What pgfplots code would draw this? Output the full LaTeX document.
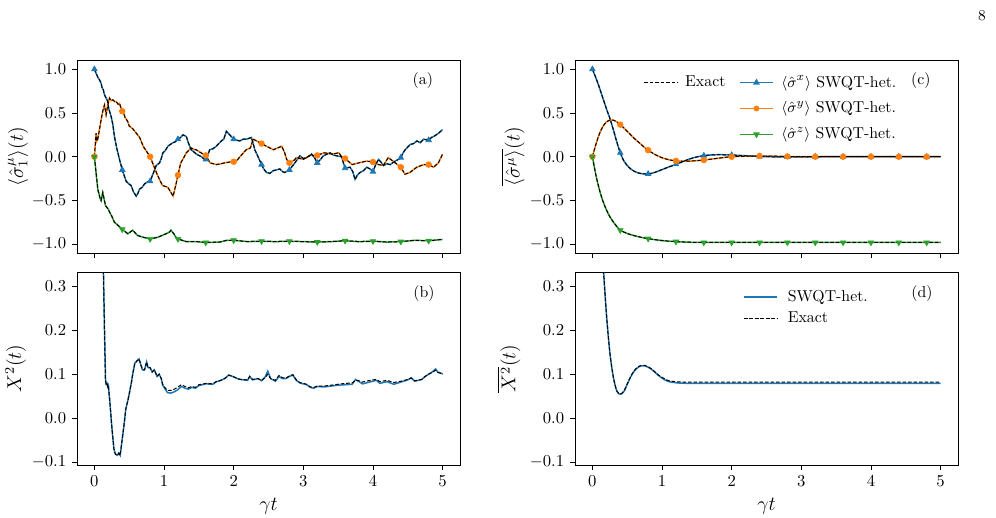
\documentclass[border=0pt]{standalone}
\usepackage{pgfplots}
\usepackage{pgfplotstable}
\pgfplotsset{compat=1.18}
\definecolor{tabblue}{HTML}{1F77B4}
\definecolor{taborange}{HTML}{FF7F0E}
\definecolor{tabgreen}{HTML}{2CA02C}

\tikzset{plab/.style={font=\fontsize{9.5}{11}\selectfont}}
\pgfplotsset{
 panel/.style={
  scale only axis, width=229.8pt, height=115.8pt,
  anchor=south west,
  xmin=-0.25, xmax=5.25,
  xtick={0,1,2,3,4,5},
  tick align=outside, tick pos=left,
  major tick length=3pt,
  axis line style={line width=0.5pt},
  every tick/.style={black, line width=0.5pt},
  tick label style={font=\fontsize{10.3}{12}\selectfont},
  label style={font=\fontsize{12}{14}\selectfont},
  yticklabel style={/pgf/number format/.cd, fixed, fixed zerofill, precision=1},
  legend cell align=left,
 },
 toprow/.style={panel, ymin=-1.1, ymax=1.105, ytick={-1,-0.5,0,0.5,1}, xticklabels={}},
 botrow/.style={panel, ymin=-0.107, ymax=0.333, ytick={-0.1,0,0.1,0.2,0.3}, xlabel={$\gamma t$}},
 sq/.style={line width=0.9pt},
 ex/.style={black, line width=0.6pt, dash pattern=on 2.2pt off 1.1pt},
 mk/.style={only marks, mark size=1.9pt, forget plot},
}

% ---------- panel (a): single trajectory ----------
\pgfplotstableread{
t v
0 1.0
0.048 0.91
0.072 0.88
0.096 0.84
0.11 0.79
0.13 0.76
0.14 0.72
0.149 0.70
0.168 0.67
0.187 0.64
0.206 0.55
0.24 0.46
0.264 0.37
0.288 0.23
0.32 0.10
0.36 -0.03
0.4 -0.15
0.43 -0.22
0.456 -0.28
0.494 -0.31
0.528 -0.33
0.56 -0.40
0.6 -0.45
0.624 -0.42
0.648 -0.37
0.686 -0.35
0.72 -0.31
0.758 -0.29
0.8 -0.28
0.84 -0.20
0.888 -0.10
0.936 -0.07
0.96 -0.02
0.984 0.045
1.017 0.07
1.056 0.12
1.09 0.14
1.128 0.16
1.16 0.17
1.2 0.2
1.238 0.22
1.272 0.25
1.32 0.23
1.353 0.15
1.39 0.08
1.464 0.03
1.536 0.0
1.583 -0.03
1.617 -0.01
1.655 0.08
1.7 0.09
1.75 0.12
1.823 0.18
1.857 0.2
1.895 0.29
1.943 0.25
2.0 0.2
2.04 0.19
2.087 0.18
2.135 0.2
2.183 0.2
2.255 0.22
2.28 0.15
2.303 0.08
2.35 0.0
2.4 -0.09
2.432 -0.14
2.471 -0.18
2.519 -0.19
2.567 -0.16
2.615 -0.15
2.663 -0.14
2.7 -0.17
2.735 -0.18
2.8 -0.15
2.84 -0.11
2.879 -0.07
2.951 0.01
2.999 -0.02
3.047 -0.01
3.119 0.03
3.167 -0.02
3.2 -0.07
3.248 -0.03
3.287 0.01
3.383 0.045
3.431 0.02
3.479 0.01
3.551 0.0
3.575 -0.07
3.6 -0.13
3.671 -0.12
3.71 -0.17
3.743 -0.26
3.776 -0.21
3.815 -0.18
3.863 -0.16
3.911 -0.12
3.959 -0.14
4.0 -0.17
4.04 -0.09
4.079 -0.03
4.113 -0.06
4.151 -0.10
4.199 -0.08
4.247 -0.09
4.319 -0.05
4.367 -0.03
4.4 -0.01
4.43 0.04
4.463 0.08
4.535 0.14
4.583 0.15
4.631 0.18
4.679 0.16
4.727 0.2
4.8 0.19
4.84 0.22
4.871 0.23
4.944 0.27
5.0 0.31
}\aX
\pgfplotstableread{
t v
0 0
0.024 0.27
0.035 0.18
0.048 0.20
0.07 0.30
0.096 0.42
0.12 0.52
0.144 0.59
0.16 0.52
0.168 0.48
0.19 0.58
0.216 0.67
0.24 0.64
0.264 0.65
0.29 0.63
0.312 0.63
0.34 0.60
0.36 0.61
0.38 0.56
0.41 0.52
0.44 0.45
0.48 0.40
0.5 0.35
0.55 0.32
0.6 0.27
0.65 0.22
0.7 0.12
0.75 0.06
0.8 0.0
0.85 -0.10
0.89 -0.18
0.94 -0.27
0.98 -0.33
1.02 -0.34
1.055 -0.35
1.1 -0.41
1.13 -0.45
1.17 -0.32
1.2 -0.21
1.24 -0.07
1.27 -0.03
1.32 0.045
1.39 0.1
1.44 0.08
1.46 0.08
1.53 0.045
1.6 0.015
1.66 -0.07
1.75 -0.09
1.82 -0.08
1.87 -0.07
1.95 -0.06
2.0 -0.057
2.05 -0.04
2.09 0.0
2.18 0.08
2.24 0.1
2.28 0.2
2.33 0.18
2.4 0.15
2.47 0.12
2.57 0.08
2.63 0.1
2.69 0.12
2.73 0.05
2.76 -0.03
2.8 -0.07
2.87 -0.04
2.9 -0.01
3.0 -0.03
3.1 0.015
3.2 0.015
3.3 0.045
3.42 0.03
3.51 0.045
3.55 0.0
3.6 -0.02
3.7 -0.09
3.8 -0.07
3.91 -0.05
4.0 -0.06
4.08 -0.09
4.15 -0.1
4.22 -0.01
4.32 -0.07
4.4 -0.12
4.46 -0.2
4.53 -0.18
4.63 -0.12
4.73 -0.09
4.8 -0.09
4.87 -0.12
4.94 -0.07
5.0 0.03
}\aY
\pgfplotstableread{
t v
0 0
0.034 -0.26
0.05 -0.38
0.062 -0.41
0.08 -0.47
0.096 -0.5
0.12 -0.41
0.13 -0.45
0.16 -0.56
0.2 -0.6
0.216 -0.63
0.25 -0.68
0.288 -0.75
0.32 -0.77
0.36 -0.8
0.4 -0.83
0.48 -0.88
0.55 -0.84
0.62 -0.9
0.7 -0.92
0.8 -0.94
0.91 -0.92
1.03 -0.88
1.08 -0.86
1.1 -0.84
1.14 -0.88
1.17 -0.92
1.2 -0.94
1.32 -0.97
1.46 -0.97
1.6 -0.98
1.8 -0.975
1.9 -0.955
2.0 -0.955
2.2 -0.97
2.4 -0.965
2.6 -0.97
2.8 -0.965
3.0 -0.97
3.2 -0.975
3.4 -0.97
3.6 -0.96
3.8 -0.97
4.0 -0.965
4.2 -0.975
4.4 -0.97
4.6 -0.955
4.8 -0.96
5.0 -0.945
}\aZ
\pgfplotstableread{
t x y z
0 1.0 0 0
0.4 -0.15 0.52 -0.83
0.8 -0.28 0.0 -0.94
1.2 0.2 -0.21 -0.94
1.6 -0.03 0.015 -0.98
2.0 0.2 -0.057 -0.955
2.4 -0.09 0.15 -0.965
2.8 -0.15 -0.07 -0.965
3.2 -0.07 0.015 -0.975
3.6 -0.13 -0.02 -0.96
4.0 -0.17 -0.06 -0.965
4.4 -0.01 -0.12 -0.97
4.8 0.19 -0.09 -0.96
}\aM

% ---------- panel (b) ----------
\pgfplotstableread{
t sw ex
0 0.75 0.75
0.06 0.6 0.6
0.1 0.45 0.45
0.13 0.33 0.33
0.145 0.2 0.2
0.155 0.12 0.12
0.16 0.085 0.085
0.168 0.078 0.078
0.18 0.08 0.08
0.19 0.072 0.072
0.2 0.075 0.075
0.22 0.04 0.04
0.25 -0.02 -0.02
0.28 -0.07 -0.07
0.3 -0.082 -0.082
0.33 -0.085 -0.085
0.35 -0.08 -0.08
0.37 -0.085 -0.085
0.39 -0.06 -0.06
0.43 -0.01 -0.01
0.45 0.02 0.02
0.48 0.04 0.04
0.5 0.055 0.055
0.53 0.08 0.08
0.55 0.10 0.10
0.58 0.125 0.125
0.61 0.13 0.13
0.64 0.135 0.135
0.66 0.125 0.125
0.69 0.11 0.11
0.72 0.11 0.11
0.75 0.128 0.128
0.77 0.115 0.115
0.8 0.115 0.115
0.83 0.105 0.105
0.86 0.11 0.11
0.9 0.095 0.095
0.93 0.1 0.1
0.96 0.09 0.09
0.98 0.075 0.077
1.02 0.065 0.068
1.05 0.058 0.063
1.1 0.057 0.063
1.15 0.06 0.066
1.2 0.065 0.071
1.25 0.072 0.076
1.3 0.068 0.072
1.35 0.066 0.069
1.4 0.07 0.072
1.45 0.068 0.07
1.5 0.074 0.076
1.6 0.078 0.079
1.7 0.077 0.078
1.75 0.083 0.083
1.8 0.085 0.085
1.87 0.09 0.09
1.93 0.098 0.098
2.0 0.094 0.094
2.05 0.09 0.09
2.1 0.088 0.088
2.2 0.086 0.087
2.23 0.095 0.095
2.27 0.087 0.088
2.35 0.09 0.09
2.4 0.085 0.086
2.45 0.093 0.092
2.49 0.107 0.1
2.53 0.09 0.09
2.6 0.084 0.086
2.65 0.095 0.097
2.7 0.09 0.092
2.75 0.09 0.091
2.8 0.095 0.096
2.85 0.098 0.099
2.9 0.086 0.087
2.95 0.08 0.081
3.0 0.078 0.079
3.05 0.076 0.077
3.1 0.07 0.071
3.15 0.068 0.07
3.2 0.072 0.073
3.3 0.071 0.073
3.4 0.073 0.075
3.5 0.075 0.077
3.6 0.076 0.079
3.7 0.077 0.08
3.75 0.088 0.086
3.8 0.083 0.085
3.85 0.078 0.082
3.9 0.08 0.084
4.0 0.084 0.087
4.05 0.086 0.088
4.1 0.079 0.083
4.2 0.083 0.086
4.3 0.077 0.081
4.4 0.082 0.084
4.5 0.087 0.088
4.55 0.092 0.091
4.6 0.084 0.085
4.7 0.088 0.088
4.75 0.095 0.095
4.8 0.1 0.1
4.85 0.105 0.104
4.9 0.112 0.109
4.93 0.105 0.104
4.97 0.103 0.102
5.0 0.1 0.1
}\bT

% ---------- panel (c) ----------
\pgfplotstableread{
t x y z
0 1.0 0 0
0.05 0.90 0.14 -0.21
0.1 0.79 0.26 -0.375
0.15 0.67 0.345 -0.505
0.2 0.55 0.395 -0.605
0.25 0.44 0.418 -0.685
0.3 0.31 0.418 -0.745
0.35 0.17 0.398 -0.797
0.4 0.045 0.366 -0.84
0.45 -0.045 0.33 -0.86
0.5 -0.10 0.29 -0.877
0.55 -0.14 0.25 -0.89
0.6 -0.166 0.21 -0.902
0.65 -0.183 0.175 -0.912
0.7 -0.193 0.14 -0.921
0.75 -0.197 0.105 -0.929
0.8 -0.196 0.075 -0.936
0.85 -0.19 0.048 -0.942
0.9 -0.178 0.025 -0.948
0.95 -0.163 0.005 -0.953
1.0 -0.147 -0.012 -0.958
1.1 -0.116 -0.035 -0.965
1.2 -0.087 -0.048 -0.97
1.3 -0.055 -0.052 -0.974
1.4 -0.025 -0.05 -0.977
1.5 -0.002 -0.045 -0.979
1.6 0.012 -0.038 -0.98
1.7 0.02 -0.028 -0.98
1.8 0.023 -0.018 -0.98
1.9 0.022 -0.008 -0.98
2.0 0.019 0.0 -0.98
2.2 0.011 0.006 -0.98
2.4 0.004 0.008 -0.98
2.6 -0.001 0.006 -0.98
2.8 -0.003 0.003 -0.98
3.0 -0.002 0.001 -0.98
3.4 0 0 -0.98
4.0 0 0 -0.98
5.0 0 0 -0.98
}\cT
\pgfplotstableread{
t x y z
0 1.0 0 0
0.4 0.045 0.366 -0.84
0.8 -0.196 0.075 -0.936
1.2 -0.087 -0.048 -0.97
1.6 0.012 -0.038 -0.98
2.0 0.019 0.0 -0.98
2.4 0.004 0.008 -0.98
2.8 -0.003 0.003 -0.98
3.2 0 0 -0.98
3.6 0 0 -0.98
4.0 0 0 -0.98
4.4 0 0 -0.98
4.8 0 0 -0.98
}\cM

% ---------- panel (d) ----------
\pgfplotstableread{
t sw ex
0 0.75 0.75
0.05 0.62 0.62
0.1 0.49 0.49
0.15 0.36 0.36
0.2 0.24 0.24
0.25 0.15 0.15
0.3 0.094 0.094
0.35 0.062 0.062
0.4 0.054 0.055
0.45 0.06 0.061
0.5 0.077 0.078
0.55 0.094 0.095
0.6 0.107 0.108
0.65 0.115 0.116
0.7 0.119 0.12
0.75 0.119 0.12
0.8 0.116 0.117
0.85 0.111 0.112
0.9 0.104 0.105
0.95 0.097 0.098
1.0 0.091 0.093
1.05 0.086 0.088
1.1 0.083 0.085
1.2 0.0805 0.083
1.3 0.0795 0.082
1.5 0.079 0.082
2 0.079 0.082
3 0.079 0.082
4 0.079 0.082
5 0.079 0.082
}\dT

\begin{document}
\begin{tikzpicture}
\path[use as bounding box] (0,0) rectangle (597.6pt,310.8pt);
\node[font=\fontsize{9}{11}\selectfont] at (589.2pt,301.2pt) {8};

% (a)
\begin{axis}[toprow, at={(46.2pt,159pt)},
  ylabel={$\langle\hat{\sigma}_1^{\mu}\rangle(t)$},
  ylabel style={at={(axis description cs:-0.154,0.5)}, anchor=center}]
\addplot[sq, tabblue] table[x=t,y=v] {\aX};
\addplot[sq, taborange] table[x=t,y=v] {\aY};
\addplot[sq, tabgreen] table[x=t,y=v] {\aZ};
\addplot[mk, tabblue, mark=triangle*] table[x=t,y=x] {\aM};
\addplot[mk, taborange, mark=*, mark size=1.7pt] table[x=t,y=y] {\aM};
\addplot[mk, tabgreen, mark=triangle*, mark options={rotate=180}] table[x=t,y=z] {\aM};
\addplot[ex] table[x=t,y=v] {\aX};
\addplot[ex] table[x=t,y=v] {\aY};
\addplot[ex] table[x=t,y=v] {\aZ};
\node[plab] at (axis description cs:0.903,0.896) {(a)};
\end{axis}

% (b)
\begin{axis}[botrow, at={(46.2pt,31.8pt)},
  ylabel={$X^2(t)$},
  ylabel style={at={(axis description cs:-0.16,0.5)}, anchor=center}]
\addplot[sq, tabblue] table[x=t,y=sw] {\bT};
\addplot[ex] table[x=t,y=ex] {\bT};
\node[plab] at (axis description cs:0.906,0.891) {(b)};
\end{axis}

% (c)
\begin{axis}[toprow, at={(345pt,159pt)},
  ylabel={$\overline{\langle\hat{\sigma}^{\mu}\rangle}(t)$},
  ylabel style={at={(axis description cs:-0.162,0.5)}, anchor=center},
  legend columns=2,
  legend style={draw=none, fill=none, inner sep=0pt, at={(0.178,0.938)}, anchor=north west,
    nodes={inner sep=2pt}, font=\fontsize{9.5}{11}\selectfont,
    row sep=3.2pt,
    /tikz/every odd column/.append style={column sep=2.5pt},
    /tikz/every even column/.append style={column sep=6.2pt}},
  legend image code/.code={\draw[mark repeat=2,mark phase=2,#1] plot coordinates {(0cm,0cm) (0.35cm,0cm) (0.7cm,0cm)};}]
\addlegendimage{ex}
\addlegendentry{Exact}
\addlegendimage{sq, tabblue, mark=triangle*, mark size=1.5pt}
\addlegendentry{$\langle\hat{\sigma}^x\rangle$ SWQT-het.}
\addlegendimage{empty legend}
\addlegendentry{}
\addlegendimage{sq, taborange, mark=*, mark size=1.3pt}
\addlegendentry{$\langle\hat{\sigma}^y\rangle$ SWQT-het.}
\addlegendimage{empty legend}
\addlegendentry{}
\addlegendimage{sq, tabgreen, mark=triangle*, mark size=1.5pt, mark options={rotate=180}}
\addlegendentry{$\langle\hat{\sigma}^z\rangle$ SWQT-het.}
\addplot[sq, tabblue, smooth, forget plot] table[x=t,y=x] {\cT};
\addplot[sq, taborange, smooth, forget plot] table[x=t,y=y] {\cT};
\addplot[sq, tabgreen, smooth, forget plot] table[x=t,y=z] {\cT};
\addplot[mk, tabblue, mark=triangle*] table[x=t,y=x] {\cM};
\addplot[mk, taborange, mark=*, mark size=1.7pt] table[x=t,y=y] {\cM};
\addplot[mk, tabgreen, mark=triangle*, mark options={rotate=180}] table[x=t,y=z] {\cM};
\addplot[ex, smooth, forget plot] table[x=t,y=x] {\cT};
\addplot[ex, smooth, forget plot] table[x=t,y=y] {\cT};
\addplot[ex, smooth, forget plot] table[x=t,y=z] {\cT};
\node[plab] at (axis description cs:0.903,0.896) {(c)};
\end{axis}

% (d)
\begin{axis}[botrow, at={(345pt,31.8pt)},
  ylabel={$\overline{X^2}(t)$},
  ylabel style={at={(axis description cs:-0.172,0.5)}, anchor=center},
  legend style={draw=none, fill=none, inner sep=0pt, at={(0.438,0.925)}, anchor=north west,
    nodes={inner sep=2pt}, font=\fontsize{9.5}{11}\selectfont, row sep=1pt,
    /tikz/every odd column/.append style={column sep=4pt}},
  legend image code/.code={\draw[#1] (0cm,0cm) -- (0.7cm,0cm);}]
\addplot[sq, tabblue, smooth] table[x=t,y=sw] {\dT};
\addlegendentry{SWQT-het.}
\addplot[ex, smooth] table[x=t,y=ex] {\dT};
\addlegendentry{Exact}
\node[plab] at (axis description cs:0.906,0.891) {(d)};
\end{axis}
\end{tikzpicture}
\end{document}
